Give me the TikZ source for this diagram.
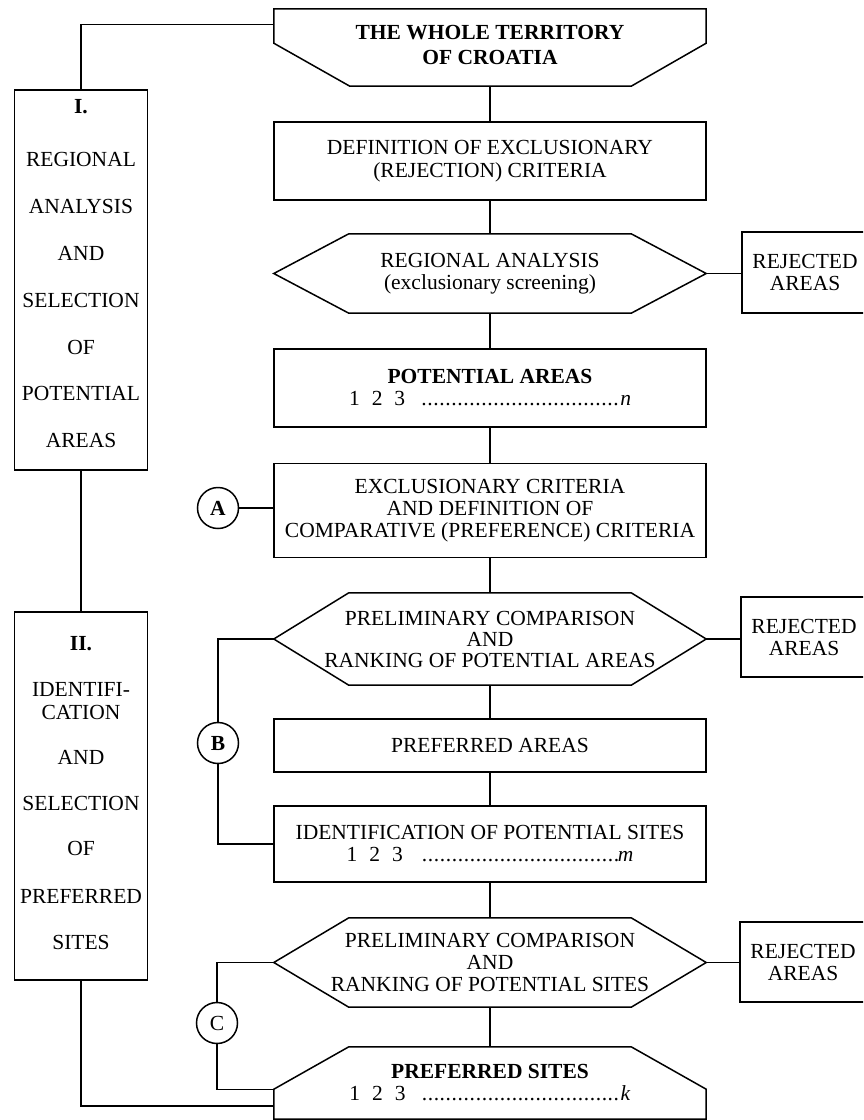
\documentclass[tikz,border=0pt]{standalone}
\usepackage{fontspec}
\setmainfont{Liberation Serif}
\usetikzlibrary{calc}
% row of numbered items with a dotted leader
\newcommand\countrow[1]{1\hspace{12pt}2\hspace{12pt}3\hspace{13pt}\leaders\hbox to 6pt{\hss.\hss}\hskip 204pt\kern-2pt\textit{#1}}
\tikzset{
  shapeline/.style={line width=1.5pt},
  link/.style={line width=1.1pt},
  mainbox/.style={draw, shapeline, minimum width=432pt, align=center, inner sep=0pt},
  frame/.style={draw=none, minimum width=432pt, align=center, inner sep=0pt},
  phasebox/.style={draw, shapeline, minimum width=133pt, inner sep=0pt},
  phasetext/.style={align=center, inner sep=0pt, anchor=north},
  rejbox/.style={draw, shapeline, minimum width=126pt, align=center, inner sep=0pt},
  marker/.style={circle, draw, shapeline, minimum size=41pt, inner sep=0pt},
}
\begin{document}
\begin{tikzpicture}[x=1pt, y=-1pt, font=\fontsize{21.5}{22}\selectfont]
\useasboundingbox (0,0) rectangle (863,1120);
\clip (0,0) rectangle (863,1120);

% ---- main column ----
\node[frame, minimum height=77pt] (top) at (490,47.5) {};
\node[align=center, inner sep=0pt, anchor=north] (toptext) at (490,25)
  {\bfseries THE WHOLE TERRITORY\\[3pt]\bfseries OF CROATIA};
\draw[shapeline] (top.north west) -- (top.north east) -- ([yshift=43pt]top.south east)
  -- ([xshift=-75pt]top.south east) -- ([xshift=76pt]top.south west)
  -- ([yshift=43pt]top.south west) -- cycle;

\node[mainbox, minimum height=78pt] (def) at (490,161)
  {DEFINITION OF EXCLUSIONARY\\[1pt](REJECTION) CRITERIA};

\node[frame, minimum height=79pt] (hexA) at (490,273.5)
  {REGIONAL ANALYSIS\\(exclusionary screening)};

\node[mainbox, minimum height=78pt] (pot) at (490,388)
  {\bfseries POTENTIAL AREAS\\\countrow{n}};

\node[mainbox, minimum height=94pt] (crit) at (490,510.5)
  {EXCLUSIONARY CRITERIA\\AND DEFINITION OF\\COMPARATIVE (PREFERENCE) CRITERIA};

\node[frame, minimum height=92pt] (hexB) at (490,639)
  {PRELIMINARY COMPARISON\\[-1pt]AND\\[-1pt]RANKING OF POTENTIAL AREAS};

\node[mainbox, minimum height=53pt] (parea) at (490,745.5) {PREFERRED AREAS};

\node[mainbox, minimum height=76pt] (ident) at (490,844)
  {IDENTIFICATION OF POTENTIAL SITES\\\countrow{m}};

\node[frame, minimum height=89pt] (hexC) at (490,962.5)
  {PRELIMINARY COMPARISON\\AND\\RANKING OF POTENTIAL SITES};

\node[frame, minimum height=72pt] (psites) at (490,1083)
  {\bfseries PREFERRED SITES\\\countrow{k}};
\draw[shapeline] (psites.south west) -- ([yshift=30pt]psites.south west)
  -- ([xshift=75pt]psites.north west) -- ([xshift=-75pt]psites.north east)
  -- ([yshift=30pt]psites.south east) -- (psites.south east) -- cycle;

% hexagonal decision shapes
\foreach \h in {hexA,hexB,hexC}
  \draw[shapeline] (\h.west) -- ([xshift=75pt]\h.north west)
    -- ([xshift=-75pt]\h.north east) -- (\h.east)
    -- ([xshift=-75pt]\h.south east) -- ([xshift=75pt]\h.south west) -- cycle;

% ---- rejected outputs ----
\node[rejbox, minimum height=81pt] (rejA) at (805,272.5) {REJECTED\\AREAS};
\node[rejbox, minimum height=80pt] (rejB) at (804,637) {REJECTED\\AREAS};
\node[rejbox, minimum height=80pt] (rejC) at (803,962) {REJECTED\\AREAS};

% ---- phase boxes ----
\node[phasebox, minimum height=380pt] (phaseI) at (81,280) {};
\node[phasetext] (phaseItext) at (81,99)
  {\bfseries I.\\[31pt]REGIONAL\\[25pt]ANALYSIS\\[25pt]AND\\[25pt]SELECTION\\[25pt]OF\\[24pt]POTENTIAL\\[25pt]AREAS};
\node[phasebox, minimum height=368pt] (phaseII) at (81,796) {};
\node[phasetext] (phaseIItext) at (81,636)
  {\bfseries II.\\[24pt]IDENTIFI-\\[1pt]CATION\\[23pt]AND\\[24pt]SELECTION\\[23pt]OF\\[26pt]PREFERRED\\[24pt]SITES};

% ---- feedback markers ----
\node[marker] (mA) at (218,508) {\bfseries A};
\node[marker] (mB) at (218,743) {\bfseries B};
\node[marker] (mC) at (217,1023) {C};

% ---- connectors ----
\draw[link] (top.south) -- (def.north);
\draw[link] (def.south) -- (hexA.north);
\draw[link] (hexA.south) -- (pot.north);
\draw[link] (pot.south) -- (crit.north);
\draw[link] (crit.south) -- (hexB.north);
\draw[link] (hexB.south) -- (parea.north);
\draw[link] (parea.south) -- (ident.north);
\draw[link] (ident.south) -- (hexC.north);
\draw[link] (hexC.south) -- (psites.north);

\draw[link] (hexA.east) -- (hexA.east -| rejA.west);
\draw[link] (hexB.east) -- (hexB.east -| rejB.west);
\draw[link] (hexC.east) -- (hexC.east -| rejC.west);

\draw[link] ([yshift=-16pt]top.north west) -| (phaseI.north);
\draw[link] (phaseI.south) -- (phaseII.north);
\draw[link] (phaseII.south) |- ([yshift=-23pt]psites.west);

\draw[link] (mA.east) -- (mA.east -| crit.west);
\draw[link] (mB.north) |- (hexB.west);
\draw[link] (mB.south) |- (ident.west);
\draw[link] (mC.north) |- (hexC.west);
\draw[link] (mC.south) |- ([yshift=30pt]psites.south west);
\end{tikzpicture}
\end{document}
